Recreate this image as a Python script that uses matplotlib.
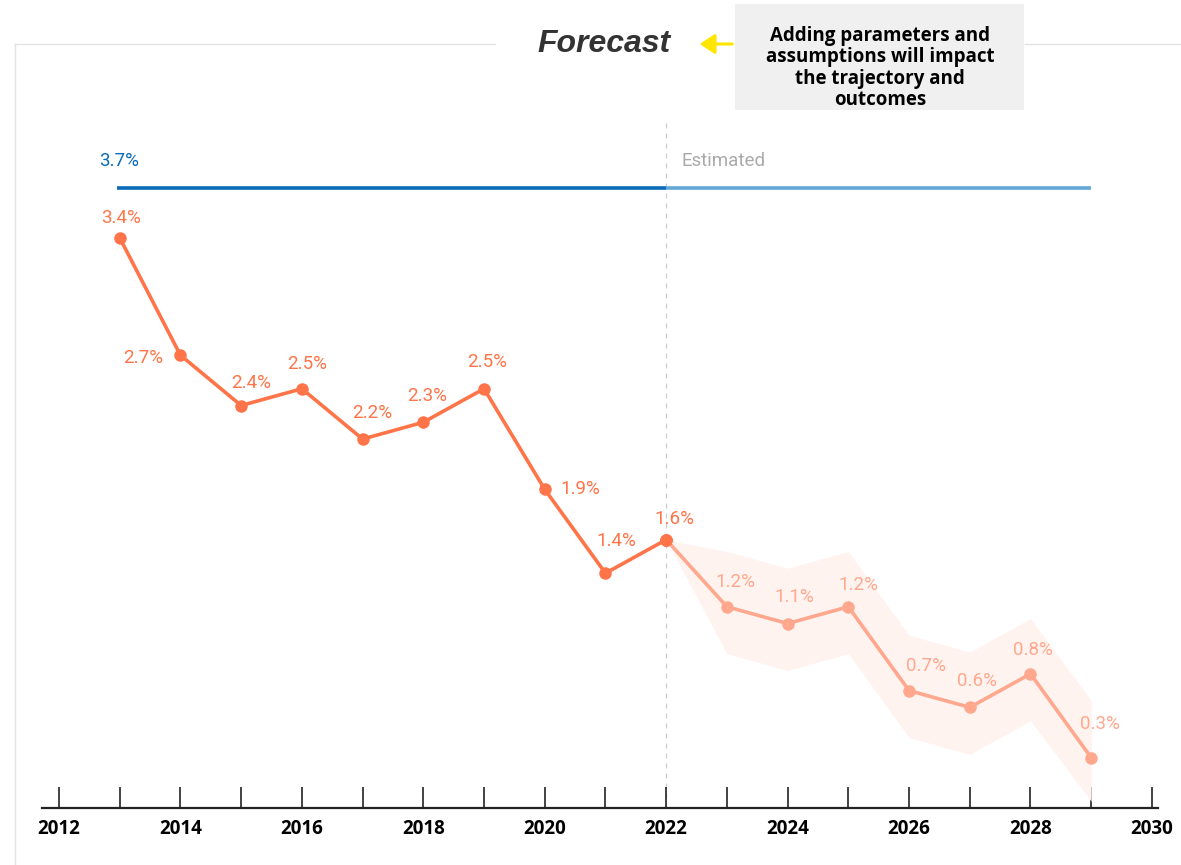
import numpy as np
import matplotlib
matplotlib.use("Agg")
import matplotlib.pyplot as plt
from matplotlib.lines import Line2D
from matplotlib.patches import Rectangle, FancyArrowPatch

years = [2013, 2014, 2015, 2016, 2017, 2018, 2019, 2020, 2021, 2022,
         2023, 2024, 2025, 2026, 2027, 2028, 2029]
values = [3.4, 2.7, 2.4, 2.5, 2.2, 2.3, 2.5, 1.9, 1.4, 1.6,
          1.2, 1.1, 1.2, 0.7, 0.6, 0.8, 0.3]
band_years = [2022, 2023, 2024, 2025, 2026, 2027, 2028, 2029]
band_upper = [1.6, 1.53, 1.43, 1.53, 1.03, 0.93, 1.13, 0.64]
band_lower = [1.6, 0.92, 0.82, 0.92, 0.42, 0.32, 0.52, 0.04]
target_value = 3.7
split_year = 2022
tick_years = list(range(2012, 2031))
label_years = list(range(2012, 2031, 2))

# label offsets in points (dx, dy) from each point
label_offsets = [(1, 14), (-27, -2), (7, 16), (4, 18), (7, 19), (3, 19), (2, 19),
                 (26, 0), (8, 23), (6, 15), (6, 18), (5, 19), (7, 16),
                 (12, 18), (5, 19), (2, 17), (6, 24)]

orange = "#ff7448"
orange_light = "#ffa88e"
blue = "#0a6cb9"
blue_light = "#62a7d6"

W, H = 1181, 865
fig = plt.figure(figsize=(W / 100, H / 100), dpi=100)

# frame lines around the chart (top line broken by the title)
gray = "#e3e3e3"
fig.add_artist(Line2D([15 / W, 15 / W], [0, 1 - 44 / H], color=gray, lw=1))
fig.add_artist(Line2D([15 / W, 495 / W], [1 - 44 / H, 1 - 44 / H], color=gray, lw=1))
fig.add_artist(Line2D([1025 / W, 1], [1 - 44 / H, 1 - 44 / H], color=gray, lw=1))

px_per_unit = 167.7
ax = fig.add_axes([42 / W, (H - 808) / H, (1158 - 42) / W, (808 - 100) / H])
ax.set_xlim(2011.72, 2030.1)
ax.set_ylim(0, 708 / px_per_unit)
ax.patch.set_alpha(0)

for s in ["top", "right", "left"]:
    ax.spines[s].set_visible(False)
ax.spines["bottom"].set_linewidth(1.6)
ax.spines["bottom"].set_color("#222222")
ax.set_yticks([])
ax.set_xticks(tick_years)
ax.set_xticklabels([str(y) if y in label_years else "" for y in tick_years],
                   fontfamily="Open Sans", fontweight="bold", fontsize=13.5)
ax.tick_params(axis="x", direction="in", length=15, width=1.2, color="#222222", pad=8)

# vertical dashed split line
ax.plot([split_year, split_year], [0, 4.1], color="#cccccc", lw=0.9,
        ls=(0, (4, 4)), zorder=1)

# target line
ax.plot([years[0] - 0.05, split_year], [target_value, target_value], color=blue, lw=2.6,
        solid_capstyle="butt")
ax.plot([split_year, years[-1]], [target_value, target_value], color=blue_light, lw=2.6,
        solid_capstyle="butt")
ax.annotate(f"{target_value}%", (years[0], target_value), xytext=(-15, 19),
            textcoords="offset points", color=blue, fontsize=13.5,
            fontfamily="Roboto", ha="left", va="center")
ax.annotate("Estimated", (split_year, target_value), xytext=(11, 19),
            textcoords="offset points", color="#aaaaaa", fontsize=13.5,
            fontfamily="Roboto", ha="left", va="center")

# forecast band
ax.fill_between(band_years, band_lower, band_upper, color="#fff3f0", lw=0, zorder=2)

i_split = years.index(split_year)
ax.plot(years[:i_split + 1], values[:i_split + 1], color=orange, lw=2.6,
        marker="o", ms=8, zorder=4)
ax.plot(years[i_split:], values[i_split:], color=orange_light, lw=2.6,
        marker="o", ms=8, zorder=3)
ax.plot([split_year], [values[i_split]], color=orange, marker="o", ms=8, zorder=5)

for i, (x, v) in enumerate(zip(years, values)):
    c = orange if x <= split_year else orange_light
    dx, dy = label_offsets[i]
    ax.annotate(f"{v}%", (x, v), xytext=(dx, dy), textcoords="offset points",
                color=c, fontsize=13.5, fontfamily="Roboto", ha="center", va="center")

# title and note
fig.text(604 / W, 1 - 44 / H, "Forecast", fontfamily="Liberation Sans", fontweight="bold",
         fontstyle="italic", fontsize=23, color="#333333", ha="center", va="center")
fig.add_artist(Rectangle((735 / W, 1 - 110 / H), (1024 - 735) / W, 106 / H,
                         transform=fig.transFigure, color="#f0f0f0", lw=0))
fig.text(880 / W, 1 - 68 / H,
         "Adding parameters and\nassumptions will impact\nthe trajectory and\noutcomes",
         fontfamily="Open Sans", fontweight="bold", fontsize=13.5, color="black",
         ha="center", va="center", linespacing=1.1)
fig.add_artist(FancyArrowPatch(
    (735 / W, 1 - 44 / H), (697 / W, 1 - 44 / H), transform=fig.transFigure,
    arrowstyle="-|>,head_length=9,head_width=6", color="#ffe500", lw=2.2,
    mutation_scale=1))

fig.savefig("out.png", dpi=100)
